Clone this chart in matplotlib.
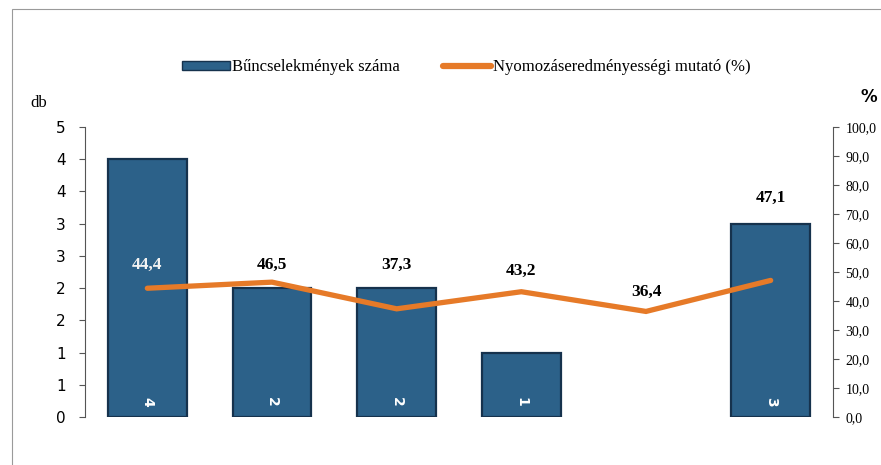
import matplotlib
matplotlib.use("Agg")
import matplotlib.pyplot as plt
from matplotlib.patches import Rectangle
from matplotlib.lines import Line2D
import numpy as np

# adatok
categories = ["1", "2", "3", "4", "5", "6"]
counts = [4, 2, 2, 1, np.nan, 3]
rates = [44.4, 46.5, 37.3, 43.2, 36.4, 47.1]
rate_label_offsets = [23, 17, 44, 21, 20, 83]   # pixel eltolás a címkéknek
left_ticks = [0, 0.5, 1, 1.5, 2, 2.5, 3, 3.5, 4, 4.5]
left_tick_labels = ["0", "1", "1", "2", "2", "3", "3", "4", "4", "5"]
right_ticks = [0, 10, 20, 30, 40, 50, 60, 70, 80, 90, 100]

bar_color = "#2c6189"
bar_edge = "#16324d"
line_color = "#e67a28"
serif = "Liberation Serif"

fig = plt.figure(figsize=(8.81, 4.65), dpi=100)

# keret (szkennelt oldal)
fig.patches.append(Rectangle((12 / 881, -0.1), 1.0, 1 - 9 / 465 + 0.1,
                             transform=fig.transFigure, fill=False,
                             edgecolor="#9a9a9a", lw=0.8))

ax = fig.add_axes([85 / 881, 1 - 417 / 465, (833 - 85) / 881, 290 / 465])
x = np.arange(len(categories))
bars = ax.bar(x, counts, width=0.63, color=bar_color, edgecolor=bar_edge, linewidth=1.6, zorder=2)
ax.set_xlim(-0.5, len(categories) - 0.5)
ax.set_ylim(0, 4.5)
ax.set_yticks(left_ticks)
ax.set_yticklabels(left_tick_labels, fontsize=11, family="DejaVu Sans")
ax.set_xticks([])
for s in ["top", "right", "bottom"]:
    ax.spines[s].set_visible(False)
ax.spines["left"].set_color("#555555")
ax.tick_params(axis="y", length=4, color="#555555", pad=10)

for xi, c in zip(x, counts):
    if np.isnan(c):
        continue
    ax.annotate(f"{int(c)}", (xi, 0), xytext=(0, 15), textcoords="offset pixels",
                ha="center", va="center", rotation=270, color="white",
                fontsize=10, fontweight="bold", family="DejaVu Sans", zorder=4)

ax2 = ax.twinx()
ax2.plot(x, rates, color=line_color, lw=3.8, solid_capstyle="round",
         solid_joinstyle="miter", zorder=3)
ax2.set_ylim(0, 100)
ax2.set_yticks(right_ticks)
ax2.set_yticklabels([f"{v:.1f}".replace(".", ",") for v in right_ticks],
                    fontsize=10, family=serif)
for s in ["top", "left", "bottom"]:
    ax2.spines[s].set_visible(False)
ax2.spines["right"].set_color("#555555")
ax2.tick_params(axis="y", length=4, color="#555555", pad=5)

for i, (xi, r) in enumerate(zip(x, rates)):
    col = "#f2f2f2" if i == 0 else "black"
    ax2.annotate(f"{r:.1f}".replace(".", ","), (xi, r), xytext=(0, rate_label_offsets[i]),
                 textcoords="offset pixels", ha="center", va="center",
                 fontsize=12.5, fontweight="bold", family=serif, color=col, zorder=5)

fig.text(30 / 881, 1 - 103 / 465, "db", fontsize=12, family=serif, va="center")
fig.text(869 / 881, 1 - 97 / 465, "%", fontsize=12, family="DejaVu Sans",
         fontweight="bold", va="center", ha="center")

handles = [Rectangle((0, 0), 1, 1, facecolor=bar_color, edgecolor=bar_edge),
           Line2D([], [], color=line_color, lw=4.5, solid_capstyle="round")]
fig.legend(handles, ["Bűncselekmények száma", "Nyomozáseredményességi mutató (%)"],
           loc="center", bbox_to_anchor=(466 / 881, 1 - 67 / 465), ncol=2,
           frameon=False, prop={"family": serif, "size": 12},
           handlelength=2.9, handleheight=0.45, handletextpad=0.1, columnspacing=2.6)

fig.savefig("out.png", dpi=100)
